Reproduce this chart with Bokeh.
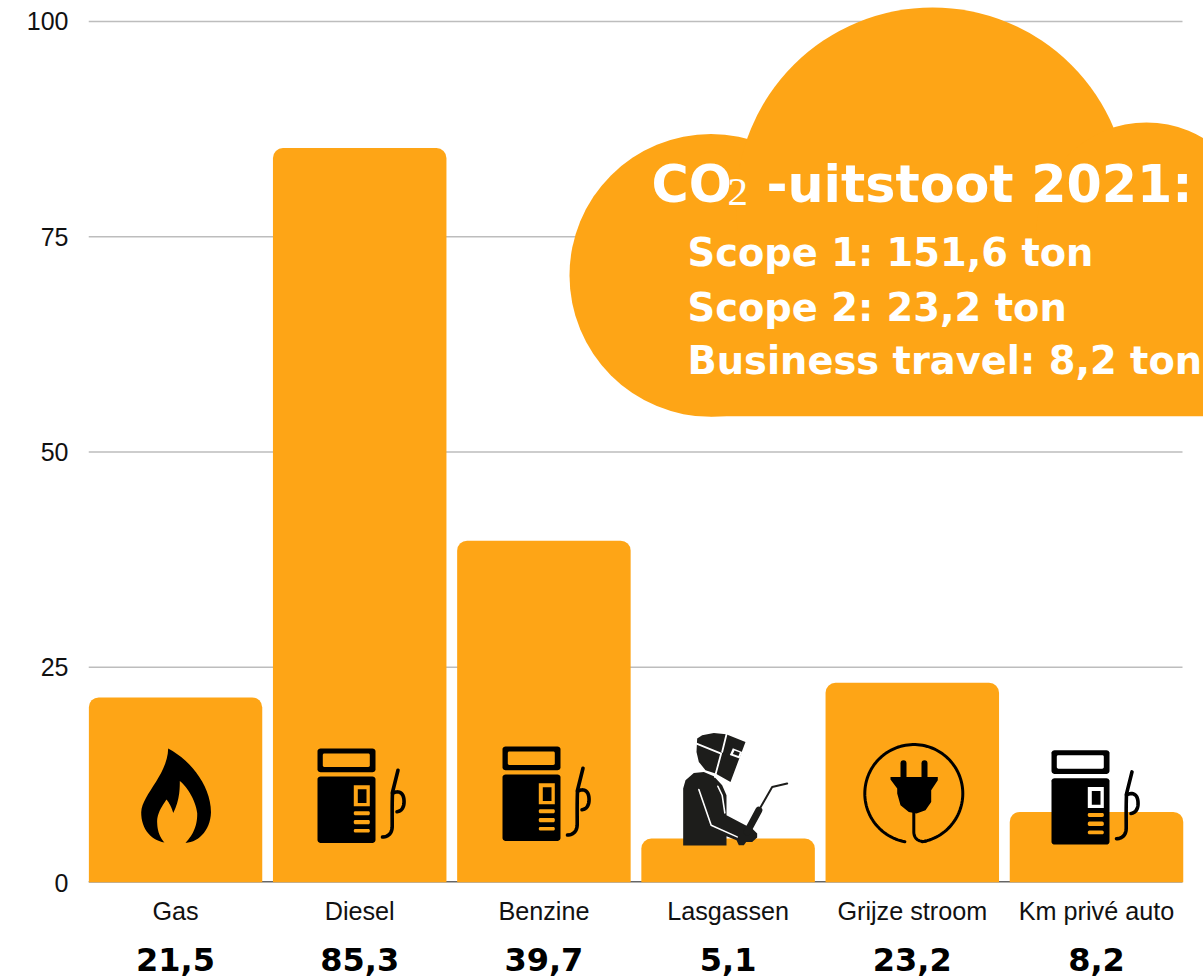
import numpy as np
from bokeh.plotting import figure
from bokeh.models import Range1d, FixedTicker, LinearAxis
from bokeh.core.properties import value
from bokeh.embed import file_html
from bokeh.resources import INLINE

categories = ["Gas", "Diesel", "Benzine", "Lasgassen", "Grijze stroom", "Km privé auto"]
emissions = [21.5, 85.3, 39.7, 5.1, 23.2, 8.2]
y_ticks = [0, 25, 50, 75, 100]
title_parts = ["CO", "2", "-uitstoot 2021:"]
scope_lines = ["Scope 1: 151,6 ton", "Scope 2: 23,2 ton", "Business travel: 8,2 ton"]

ORANGE = "#FEA516"
INK = "#000000"
WELD = "#1D1D1B"
W, H = 1203, 977
LEFT, RIGHT, TOP, BASE = 88, 1203, 0, 882.3
STEP, C0, UNIT = 184.2, 175.0, 8.613

def dx(px):
    return (np.asarray(px, float) - C0) / STEP
def dy(py):
    return (BASE - np.asarray(py, float)) / UNIT

p = figure(width=W, height=H, output_backend="svg", toolbar_location=None,
           x_range=Range1d(dx(LEFT), dx(RIGHT)), y_range=Range1d(0, dy(TOP)),
           min_border_left=LEFT, min_border_right=0, min_border_top=0,
           min_border_bottom=977 - int(BASE))
p.outline_line_color = None
p.background_fill_color = "#FFFFFF"
p.border_fill_color = "#FFFFFF"
p.xgrid.visible = False
p.ygrid.visible = False

xs = list(range(len(categories)))

# axes
ya = p.yaxis[0]
ya.ticker = FixedTicker(ticks=y_ticks)
ya.axis_line_color = None
ya.major_tick_line_color = None
ya.minor_tick_line_color = None
ya.major_label_standoff = 14
ya.major_label_text_font = "Liberation Sans"
ya.major_label_text_font_size = "25px"
ya.major_label_text_color = "#111111"

xa = p.xaxis[0]
xa.ticker = FixedTicker(ticks=xs)
xa.major_label_overrides = {i: c for i, c in enumerate(categories)}
xa.axis_line_color = None
xa.major_tick_line_color = None
xa.minor_tick_line_color = None
xa.major_label_standoff = 8
xa.major_label_text_font = "Liberation Sans"
xa.major_label_text_font_size = "25.2px"
xa.major_label_text_color = "#111111"

xb = LinearAxis(ticker=FixedTicker(ticks=xs),
                major_label_overrides={i: f"{v}".replace(".", ",") for i, v in enumerate(emissions)})
xb.axis_line_color = None
xb.major_tick_line_color = None
xb.minor_tick_line_color = None
xb.major_label_standoff = 14
xb.major_label_text_font = "DejaVu Sans"
xb.major_label_text_font_style = "bold"
xb.major_label_text_font_size = "32px"
xb.major_label_text_color = "#000000"
p.add_layout(xb, "below")

# grid lines only as far as the bars reach
bar_w = 173.5 / STEP
x_l, x_r = dx(LEFT), dx(1182)
p.segment(x0=[x_l] * 4, x1=[x_r] * 4, y0=y_ticks[1:], y1=y_ticks[1:],
          line_color="#BDBDBD", line_width=1.5)
p.segment(x0=[x_l], x1=[x_r], y0=[0], y1=[0], line_color="#666666", line_width=3)

# bars
p.vbar(x=xs, top=emissions, bottom=0, width=bar_w, fill_color=ORANGE, line_color=None,
       border_radius=(10, 10, 0, 0))

# cloud
def blob(cx, cy, r):
    p.ellipse(x=[float(dx(cx))], y=[float(dy(cy))], width=[2 * r / STEP], height=[2 * r / UNIT],
              fill_color=ORANGE, line_color=None)
blob(710.5, 275, 141.5)
blob(932, 203.5, 196.5)
blob(1146, 232, 110)
p.quad(left=[float(dx(710))], right=[float(dx(1230))], top=[float(dy(230))], bottom=[float(dy(416))],
       fill_color=ORANGE, line_color=None)

def txt(px, py, s, size, style="bold", color="#FFFFFF", font="DejaVu Sans"):
    p.text(x=[float(dx(px))], y=[float(dy(py))], text=[s], text_font=value(font),
           text_font_style=style, text_font_size=size, text_color=color,
           text_baseline="alphabetic", text_align="left")

txt(651, 184, title_parts[0], "50.7px")
txt(727, 192, title_parts[1], "41px", style="normal", font="DejaVu Sans ExtraLight")
txt(766, 184, title_parts[2], "50.7px")
for line, base in zip(scope_lines, [252, 307, 360]):
    txt(687, base, line, "38.4px")

# icon helpers (shapes given in picture pixels)
def poly(pts, color):
    a = np.asarray(pts, float)
    p.patch(dx(a[:, 0]), dy(a[:, 1]), fill_color=color, line_color=None)
def rect(x0, y0, x1, y1, color, r=0):
    if r == 0:
        poly([(x0, y0), (x1, y0), (x1, y1), (x0, y1)], color)
        return
    t = np.linspace(0, np.pi / 2, 6)
    pts = []
    for cx, cy, a0 in [(x1 - r, y0 + r, -np.pi / 2), (x1 - r, y1 - r, 0),
                       (x0 + r, y1 - r, np.pi / 2), (x0 + r, y0 + r, np.pi)]:
        pts += list(zip(cx + r * np.cos(a0 + t), cy + r * np.sin(a0 + t)))
    poly(pts, color)
def stroke(pts, color, w):
    a = np.asarray(pts, float)
    p.line(dx(a[:, 0]), dy(a[:, 1]), line_color=color, line_width=w, line_cap="round", line_join="round")
def bez(a, b, c, d, n=16):
    t = np.linspace(0, 1, n)[:, None]
    a, b, c, d = map(lambda v: np.asarray(v, float), (a, b, c, d))
    return list(map(tuple, (1 - t) ** 3 * a + 3 * (1 - t) ** 2 * t * b + 3 * (1 - t) * t ** 2 * c + t ** 3 * d))

# flame
flame = (bez((167.7, 748.3), (190, 760), (210, 785), (210.5, 812))
         + bez((210.5, 812), (210, 830), (198, 842), (185, 842.7))
         + bez((185, 842.7), (192, 835), (197, 826), (196.7, 813))
         + bez((196.7, 813), (195, 800), (187, 787), (179.3, 780.7))
         + bez((179.3, 780.7), (179.5, 795), (177, 804), (172.7, 812.7))
         + bez((172.7, 812.7), (171, 807), (169, 803), (166, 799.3))
         + bez((166, 799.3), (160, 808), (156, 815), (156.7, 823))
         + bez((156.7, 823), (157, 832), (160, 838), (164, 842.3))
         + bez((164, 842.3), (150, 840), (140.5, 828), (140.7, 812))
         + bez((140.7, 812), (141, 795), (167, 775), (167.7, 748.3)))
poly(flame, INK)

def pump(ox, oy, window, screen):
    X = lambda v: v + ox
    Y = lambda v: v + oy
    rect(X(317), Y(748.3), X(375), Y(772), INK, 3)
    rect(X(322.3), Y(753.3), X(369.3), Y(766.7), window, 1.5)
    rect(X(317), Y(776.3), X(375), Y(842.7), INK, 3)
    rect(X(353.3), Y(785), X(369.3), Y(806), screen)
    rect(X(357.3), Y(789), X(366), Y(802.7), INK)
    for a, b in [(811, 815), (819.7, 824), (828.7, 832.3)]:
        rect(X(353.3), Y(a), X(369.3), Y(b), ORANGE, 1.5)
    hose = ([(397.5, 770), (392, 792)] + bez((392, 792), (391.5, 805), (391.7, 815), (391.7, 826))
            + bez((391.7, 826), (391.7, 833), (388, 836.5), (382, 836.8)))
    loop = bez((392, 793), (398, 790), (403, 792), (403.5, 800)) + bez((403.5, 800), (404, 807), (401, 811), (396.5, 811.5))
    stroke([(X(a), Y(b)) for a, b in hose], INK, 3.6)
    stroke([(X(a), Y(b)) for a, b in loop], INK, 3.6)

pump(0, 0, ORANGE, ORANGE)
pump(185, -2, ORANGE, ORANGE)
pump(734, 1.7, "#FFFFFF", "#FFFFFF")

# welder (drawn from 3x crop coordinates)
def wz(pts):
    return [(480 + x / 3, 720 + y / 3) for x, y in pts]
poly(wz([(608, 376), (608, 205), (615, 180), (640, 158), (670, 155), (700, 168), (725, 195), (738, 225),
         (738, 285), (795, 315), (815, 325), (830, 340), (830, 352), (815, 365), (797, 365), (790, 375),
         (775, 375), (768, 360), (738, 348), (738, 376)]), WELD)
stroke(wz([(655, 208), (692, 315), (770, 350)]), "#FFFFFF", 1.6)
stroke(wz([(712, 198), (725, 225), (733, 278)]), "#FFFFFF", 1.6)
stroke(wz([(800, 335), (835, 270)]), WELD, 7)
stroke(wz([(835, 270), (875, 200), (920, 190)]), WELD, 2)
poly(wz([(650, 55), (665, 45), (700, 38), (737, 42), (795, 65), (750, 185), (705, 160), (675, 150), (655, 125), (648, 95)]), WELD)
stroke(wz([(648, 70), (722, 100), (703, 170)]), "#FFFFFF", 1.8)
stroke(wz([(738, 42), (725, 95)]), "#FFFFFF", 1.8)
poly(wz([(757, 84), (785, 95), (777, 115), (748, 104)]), "#FFFFFF")
poly(wz([(762, 91), (778, 97), (774, 107), (757, 101)]), WELD)

# plug
cx, cy, r = 913.3, 793.3, 49
ang = np.radians(np.linspace(100.5, 440, 120))
arc = list(zip(cx + r * np.cos(ang), cy + r * np.sin(ang)))
stroke(arc, INK, 3)
stroke([(903, 763), (903, 778)], INK, 6)
stroke([(924, 763), (924, 778)], INK, 6)
poly([(890, 776.7), (937.3, 776.7), (937.3, 780), (930.7, 790), (930.7, 801.7), (925, 810), (916, 813.3),
      (908.3, 811.7), (900, 805), (896.7, 793.3), (896.7, 788.3), (890, 779.3)], INK)
stroke([(913.3, 812), (913.3, 832)] + bez((913.3, 832), (913.5, 839), (919, 842), (925, 841)), INK, 3)

open("out.html", "w").write(file_html(p, INLINE))
